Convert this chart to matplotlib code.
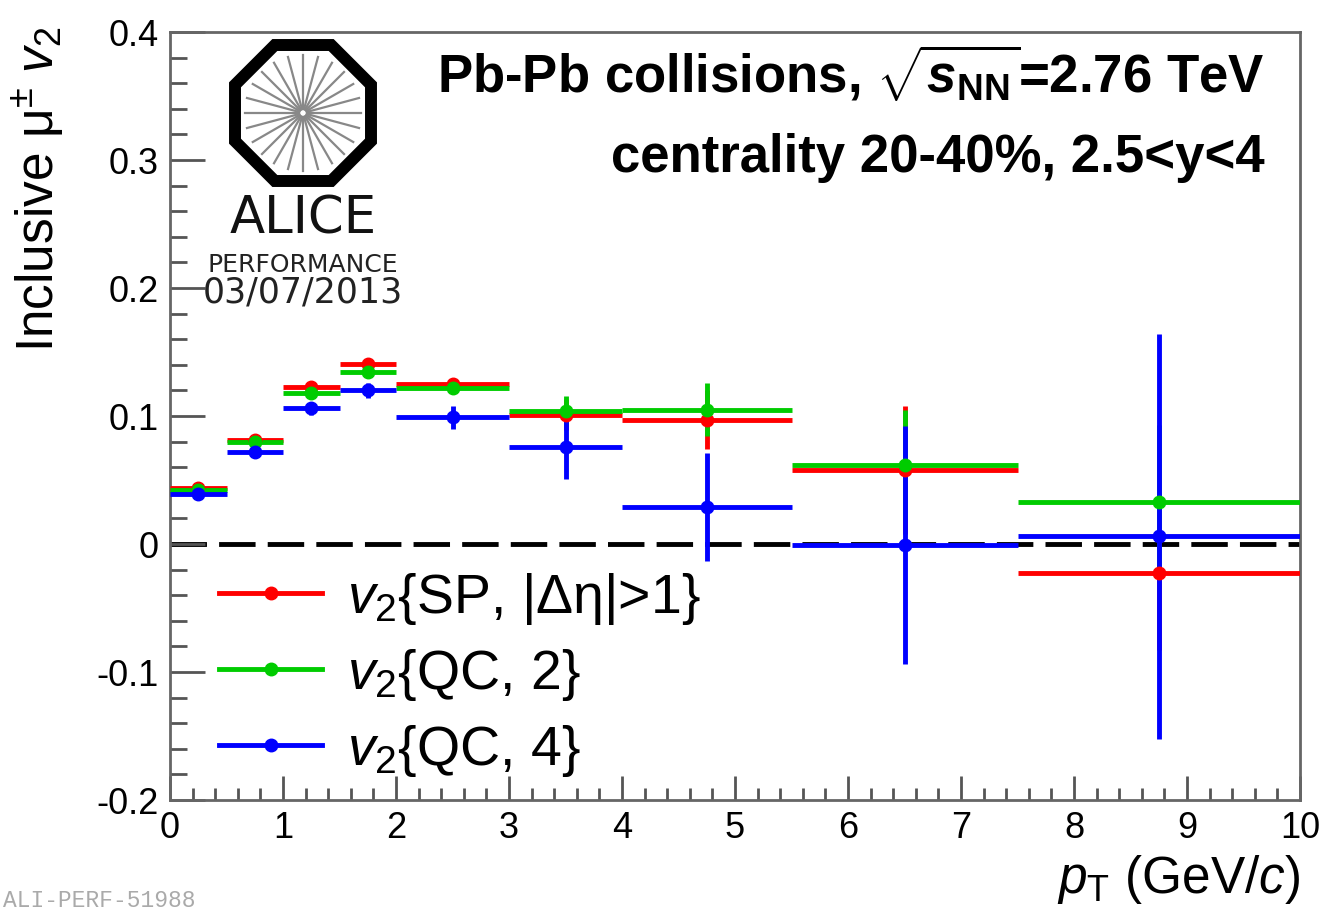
import numpy as np
import matplotlib
matplotlib.use('Agg')
import matplotlib.pyplot as plt
from matplotlib.lines import Line2D
from matplotlib.patches import RegularPolygon
from matplotlib.ticker import MultipleLocator

plt.rcParams['font.family'] = ['Liberation Sans', 'DejaVu Sans']
plt.rcParams['mathtext.fontset'] = 'custom'
plt.rcParams['mathtext.rm'] = 'Liberation Sans'
plt.rcParams['mathtext.it'] = 'Liberation Sans:italic'
plt.rcParams['mathtext.bf'] = 'Liberation Sans:bold'
plt.rcParams['mathtext.bfit'] = 'Liberation Sans:italic:bold'

# pT bins (GeV/c)
bin_edges = [0, 0.5, 1, 1.5, 2, 3, 4, 5.5, 7.5, 10]

# v2{SP, |deta|>1}
v2_sp = [0.044, 0.081, 0.123, 0.141, 0.125, 0.101, 0.097, 0.058, -0.023]
err_sp = [0.003, 0.003, 0.004, 0.004, 0.005, 0.012, 0.023, 0.050, 0.060]
# v2{QC,2}
v2_qc2 = [0.042, 0.080, 0.118, 0.134, 0.122, 0.104, 0.105, 0.062, 0.033]
err_qc2 = [0.003, 0.003, 0.004, 0.004, 0.005, 0.012, 0.021, 0.043, 0.060]
# v2{QC,4}
v2_qc4 = [0.039, 0.072, 0.106, 0.120, 0.099, 0.076, 0.029, -0.001, 0.006]
err_qc4 = [0.004, 0.004, 0.005, 0.006, 0.009, 0.025, 0.042, 0.093, 0.158]

labels = [r'$v_2$' + '{SP, |Δη|>1}', r'$v_2$' + '{QC, 2}', r'$v_2$' + '{QC, 4}']
colors = ['#ff0000', '#00cc00', '#0000ff']

edges = np.array(bin_edges)
pt = 0.5 * (edges[1:] + edges[:-1])
dpt = 0.5 * (edges[1:] - edges[:-1])

W, H = 1321, 916
fig = plt.figure(figsize=(W / 100, H / 100), dpi=100)
ax = fig.add_axes([170 / W, 1 - 800 / H, 1130 / W, 768 / H])

ax.axhline(0, color='black', lw=3.5, dashes=(7.5, 2.5), zorder=1)

for v, e, c in zip([v2_sp, v2_qc2, v2_qc4], [err_sp, err_qc2, err_qc4], colors):
    ax.errorbar(pt, v, yerr=e, xerr=dpt, fmt='o', color=c, ms=9, elinewidth=3.5,
                capsize=0, zorder=3)

ax.set_xlim(0, 10)
ax.set_ylim(-0.2, 0.4)
ax.xaxis.set_major_locator(MultipleLocator(1))
ax.xaxis.set_minor_locator(MultipleLocator(0.2))
ax.yaxis.set_major_locator(MultipleLocator(0.1))
ax.yaxis.set_minor_locator(MultipleLocator(0.02))
ax.set_yticks([-0.2, -0.1, 0, 0.1, 0.2, 0.3, 0.4])
ax.set_yticklabels(['-0.2', '-0.1', '0', '0.1', '0.2', '0.3', '0.4'])
ax.tick_params(axis='both', which='both', direction='in', colors='#555555',
               labelcolor='black', labelsize=26, width=2)
ax.tick_params(axis='x', which='major', length=17, pad=8)
ax.tick_params(axis='x', which='minor', length=9)
ax.tick_params(axis='y', which='major', length=25, pad=8)
ax.tick_params(axis='y', which='minor', length=12)
for s in ax.spines.values():
    s.set_color('#666666')
    s.set_linewidth(2)

handles = [Line2D([], [], color=c, lw=3.5, marker='o', ms=9) for c in colors]
ax.legend(handles, labels, loc='center left', bbox_to_anchor=(0.043, 0.163),
          frameon=False, fontsize=40, handlelength=1.87, handletextpad=0.45,
          labelspacing=0.36, borderpad=0, borderaxespad=0)

ax.text(0.969, 0.9206, r'Pb-Pb collisions, $\sqrt{\boldsymbol{s}_{\mathbf{NN}}}$=2.76 TeV',
        transform=ax.transAxes, ha='right', va='baseline', fontsize=38, fontweight='bold')
ax.text(0.969, 0.8177, 'centrality 20-40%, 2.5<y<4', transform=ax.transAxes,
        ha='right', va='baseline', fontsize=38, fontweight='bold')

fig.text(38 / W, 1 - 27 / H, r'Inclusive $\mathrm{\mu}^{\pm}$ $v_{2}$', rotation=90,
         ha='center', va='top', fontsize=37)
fig.text(1300 / W, 1 - 906 / H, r'$p_{\mathrm{T}}$ (GeV/$c$)', ha='right', va='bottom',
         fontsize=37)
fig.text(3 / W, 1 - 912 / H, 'ALI-PERF-51988', ha='left', va='bottom', fontsize=16.5,
         family='Liberation Mono', color='#aaaaaa')

# ALICE logo
lax = fig.add_axes([200 / W, 1 - 315 / H, 205 / W, 280 / H])
lax.set_xlim(200, 405)
lax.set_ylim(315, 35)
lax.axis('off')
cx, cy = 303, 113
lax.add_patch(RegularPolygon((cx, cy), 8, radius=73.6, orientation=np.pi / 8,
                             fill=False, ec='black', lw=8.6, joinstyle='miter'))
for a in np.arange(24) * np.pi / 12:
    lax.plot([cx + 4 * np.cos(a), cx + 58 * np.cos(a)],
             [cy + 4 * np.sin(a), cy + 58 * np.sin(a)], color='#888888', lw=1.6)
lax.text(cx, 219, 'ALICE', ha='center', va='center', fontsize=37, family='DejaVu Sans',
         color='#111111')
lax.text(cx, 265, 'PERFORMANCE', ha='center', va='center', fontsize=18,
         family='DejaVu Sans', color='#222222')
lax.text(cx, 293, '03/07/2013', ha='center', va='center', fontsize=25,
         family='DejaVu Sans', color='#222222')

fig.savefig('out.png', dpi=100)
